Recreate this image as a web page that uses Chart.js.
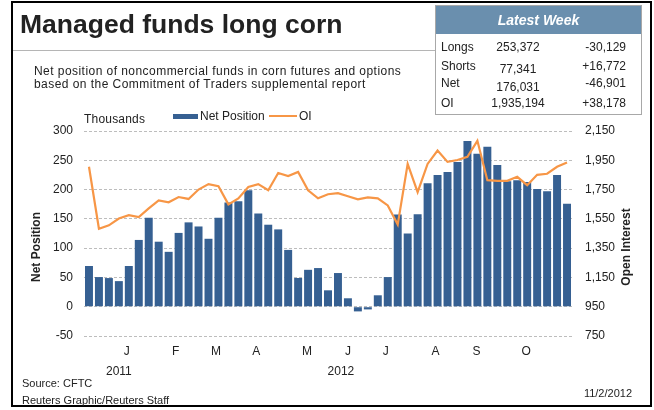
<!DOCTYPE html>
<html><head><meta charset="utf-8">
<script src="https://cdn.jsdelivr.net/npm/chart.js@4"></script>
<style>
body{margin:0;width:654px;height:410px;overflow:hidden;background:#fff;font-family:"Liberation Sans",Arial,sans-serif;color:#222}
#wrap{position:relative;width:654px;height:410px}
canvas{position:absolute;left:0;top:0}
.t{position:absolute;white-space:nowrap;line-height:1}
.rot{position:absolute;white-space:nowrap;line-height:1;font-weight:bold;font-size:12px;transform:translate(-50%,-50%) rotate(-90deg)}
</style></head><body>
<div id="wrap">
<canvas id="c" width="654" height="410"></canvas>
<div style="position:absolute;left:11px;top:1px;width:637px;height:402px;border:2px solid #000;"></div>
<div class="t" style="left:20px;top:11px;font-size:26.5px;font-weight:bold;color:#222;">Managed funds long corn</div>
<div style="position:absolute;left:13px;top:50px;width:422px;height:1px;background:#b5b5b5;"></div>
<div class="t" style="left:34px;top:65px;font-size:12px;letter-spacing:0.45px;">Net position of noncommercial funds in corn futures and options</div>
<div class="t" style="left:34px;top:78px;font-size:12px;letter-spacing:0.45px;">based on the Commitment of Traders supplemental report</div>

<div style="position:absolute;left:435px;top:5px;width:205px;height:108px;border:1px solid #a8a8a8;background:#fff;"></div>
<div style="position:absolute;left:436px;top:6px;width:205px;height:28px;background:#6a8fae;"></div>
<div class="t" style="left:436px;width:205px;text-align:center;top:13px;font-size:14px;font-weight:bold;font-style:italic;color:#fff;">Latest Week</div>
<div id="tbl"></div>

<div style="position:absolute;left:173px;top:114px;width:25px;height:5px;background:#366092;"></div>
<div class="t" style="left:200px;top:110px;font-size:12px;">Net Position</div>
<div style="position:absolute;left:269px;top:115px;width:28px;height:2px;background:#f79646;"></div>
<div class="t" style="left:299px;top:110px;font-size:12px;">OI</div>
<div class="t" style="left:84px;top:113px;font-size:12px;letter-spacing:0.2px;">Thousands</div>

<div class="rot" style="left:36px;top:247px;">Net Position</div>
<div class="rot" style="left:626px;top:247px;">Open Interest</div>

<div class="t" style="left:22px;top:378px;font-size:11px;">Source: CFTC</div>
<div class="t" style="left:22px;top:395px;font-size:11px;">Reuters Graphic/Reuters Staff</div>
<div class="t" style="right:22px;top:388px;font-size:11px;">11/2/2012</div>
</div>
<script>
// ---- data ----
const weekIndex = Array.from({length:49},(_,i)=>i);
const netPosition = [69.5,50.6,48.9,43.7,69.5,114,152,111,93.7,126,144,137,116,152,178,180,199,159,140,132,97,49,63,66,28,57.5,14.4,-8,-4.6,19.5,50.6,157.5,125,158,211,225,230,247,283,261,273,242,214,216,213,201,197,225,176];
const openInterest = [1906,1483,1506,1552,1575,1562,1621,1676,1663,1699,1686,1750,1787,1773,1649,1690,1768,1787,1745,1863,1842,1870,1745,1690,1718,1725,1704,1683,1697,1690,1642,1511,1925,1732,1925,2017,1939,1952,1973,2083,1814,1810,1810,1837,1780,1851,1858,1906,1935];
const monthLabels = ["J","F","M","A","M","J","J","A","S","O"];
const monthPos = [3.8,8.7,12.75,16.8,21.9,26,29.8,34.8,38.9,43.9];
const yearLabels = ["2011","2012"];
const yearPos = [3.0,25.3];
const tableRows = ["Longs","Shorts","Net","OI"];
const tableValues = ["253,372","77,341","176,031","1,935,194"];
const tableChanges = ["-30,129","+16,772","-46,901","+38,178"];

// ---- table ----
const rowTop = [41,60,77,97];
const valOff = [0,3,4,0];
const tbl = document.getElementById('tbl');
tableRows.forEach((r,i)=>{
  tbl.insertAdjacentHTML('beforeend',
   `<div class="t" style="left:441px;top:${rowTop[i]}px;font-size:12px;">${r}</div>`+
   `<div class="t" style="left:468px;width:100px;text-align:center;top:${rowTop[i]+valOff[i]}px;font-size:12px;">${tableValues[i]}</div>`+
   `<div class="t" style="right:${654-626}px;top:${rowTop[i]}px;font-size:12px;">${tableChanges[i]}</div>`);
});

const font = {family:'"Liberation Sans", Arial, sans-serif', size:12};
const yearPlugin = {
  id:'years',
  afterDraw(chart){
    const s = chart.scales.xm, ctx = chart.ctx;
    ctx.save();
    ctx.font = '12px "Liberation Sans", Arial, sans-serif';
    ctx.fillStyle = '#222'; ctx.textAlign='center'; ctx.textBaseline='middle';
    yearLabels.forEach((t,i)=>ctx.fillText(t, s.getPixelForValue(yearPos[i]), 372));
    ctx.restore();
  }
};

new Chart(document.getElementById('c'), {
  data:{
    labels: weekIndex,
    datasets:[
      {type:'line', label:'OI', data:openInterest, yAxisID:'y1', xAxisID:'x', borderColor:'#f79646', borderWidth:2.2, pointRadius:0, tension:0, order:0},
      {type:'bar', label:'Net Position', data:netPosition, yAxisID:'y', xAxisID:'x', backgroundColor:'#366092', categoryPercentage:1, barPercentage:0.8, order:1}
    ]
  },
  options:{
    responsive:false, animation:false,
    layout:{padding:{top:131,left:0,right:0,bottom:0}},
    plugins:{legend:{display:false}, tooltip:{enabled:false}},
    scales:{
      x:{type:'category', display:false, offset:true},
      xm:{type:'linear', position:'bottom', min:-0.5, max:48.5,
        afterBuildTicks:s=>{s.ticks = monthPos.map(v=>({value:v}));},
        ticks:{autoSkip:false, maxRotation:0, padding:8, color:'#222', font, callback:(v,i)=>monthLabels[i]},
        grid:{display:false, drawTicks:false}, border:{display:false},
        afterFit:s=>{s.height=74;}},
      y:{position:'left', min:-50, max:300,
        ticks:{stepSize:50, padding:11, color:'#222', font},
        grid:{color:'#bdbdbd', lineWidth:1, drawTicks:false},
        border:{display:false, dash:[3,2]},
        afterFit:s=>{s.width=84;}},
      y1:{position:'right', min:750, max:2150,
        ticks:{stepSize:200, padding:13, color:'#222', font, callback:v=>v.toLocaleString('en-US')},
        grid:{display:false, drawTicks:false}, border:{display:false},
        afterFit:s=>{s.width=82;}}
    }
  },
  plugins:[yearPlugin]
});
</script>
</body></html>
